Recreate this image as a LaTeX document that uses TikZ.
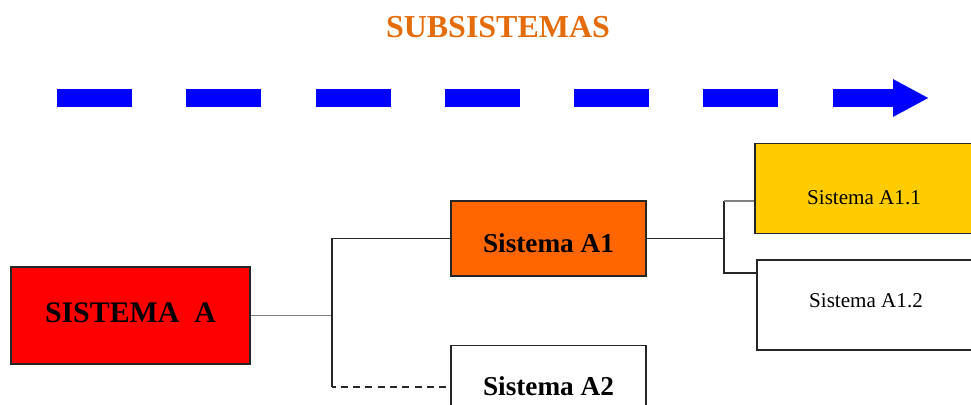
\documentclass[tikz,border=0pt]{standalone}
\usepackage{fontspec}
\setmainfont{Liberation Serif}
\usetikzlibrary{positioning, arrows.meta}

\definecolor{tituloNaranja}{RGB}{228,108,10}
\definecolor{rojoSis}{RGB}{255,0,0}
\definecolor{naranjaSis}{RGB}{255,102,0}
\definecolor{oroSis}{RGB}{255,204,0}

\newcommand{\bajar}[2]{\raisebox{-#1}[\height][\depth]{#2}}

\begin{document}
\begin{tikzpicture}[
    x=0.02cm, y=-0.02cm,
    sistema/.style={rectangle, draw=black!85, line width=1.1pt, inner sep=0pt,
                 align=center},
    principal/.style={sistema, fill=rojoSis, minimum width=4.78cm, minimum height=1.94cm,
                 font=\fontsize{17}{20}\selectfont\bfseries},
    nivel1/.style={sistema, minimum width=3.9cm, minimum height=1.5cm,
                 font=\fontsize{15.5}{18}\selectfont\bfseries},
    nivel2/.style={sistema, minimum width=4.36cm, minimum height=1.8cm,
                 font=\fontsize{12}{14}\selectfont},
    linea/.style={line width=0.9pt, black!85},
    flecha/.style={line width=0.36cm, blue, dash pattern=on 1.5cm off 1.086cm,
                 -{Triangle[length=0.72cm, width=0.7cm]}}
]
\clip (0,0) rectangle (971,405);
\useasboundingbox (0,0) rectangle (971,405);

% --- Titulo y flecha ---
\node[text=tituloNaranja, font=\fontsize{18.2}{21}\selectfont\bfseries] (titulo) at (498,27) {SUBSISTEMAS};
\coordinate (inicio) at (57,98);
\coordinate (fin) at (929,98);
\draw[flecha] (inicio) -- (fin);

% --- Sistemas ---
\node[principal] (sisA) at (130.5,315.5) {\bajar{-0.06cm}{SISTEMA\ \ A}};
\node[nivel1, fill=naranjaSis] (sisA1) at (548.5,238.5) {\bajar{0.1cm}{Sistema A1}};
\node[nivel1, fill=white] (sisA2) at (548.5,383) {\bajar{0.06cm}{Sistema A2}};
\node[nivel2, fill=oroSis] (sisA11) at (864,188.5) {\bajar{0.18cm}{Sistema A1.1}};
\node[nivel2, fill=white] (sisA12) at (866,305) {\bajar{-0.09cm}{Sistema A1.2}};

% --- Ramas ---
\coordinate (r1) at (332,238.5);
\coordinate (r2) at (332,387);
\coordinate (r3) at (724,201);
\coordinate (r4) at (724,273);

\draw[linea, gray, line width=0.6pt] (sisA.east) -- (sisA.east -| r1);
\draw[linea] (r2) -- (r1) -- (sisA1.west);
\draw[linea, dash pattern=on 4pt off 3pt, dash phase=-5pt] (r2) -- (sisA2.west |- r2);

\draw[linea] (sisA1.east) -- (sisA1.east -| r3);
\draw[linea] (r3) -- (r4) -- (sisA12.west |- r4);
\draw[linea, gray, line width=0.6pt] (r3) -- (sisA11.west |- r3);
\end{tikzpicture}
\end{document}
